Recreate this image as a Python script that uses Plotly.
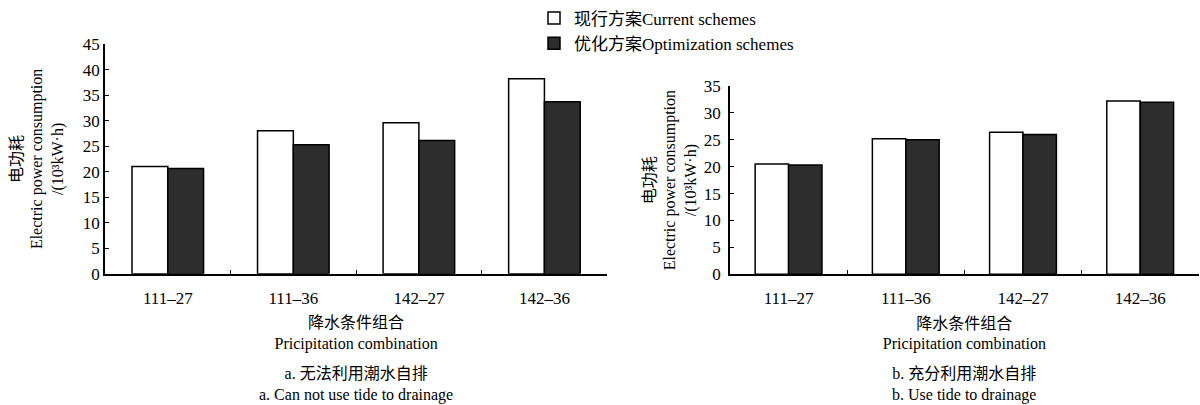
import plotly.graph_objects as go
from plotly.subplots import make_subplots

# Precipitation combinations (x categories)
categories = ["111–27", "111–36", "142–27", "142–36"]

# Panel a: tide cannot be used for drainage (10^3 kW·h)
a_current = [21.0, 28.0, 29.6, 38.2]
a_optimized = [20.6, 25.3, 26.1, 33.7]

# Panel b: full use of tidal self-drainage (10^3 kW·h)
b_current = [20.5, 25.2, 26.4, 32.2]
b_optimized = [20.3, 25.0, 26.0, 32.0]

series_names = ["现行方案Current schemes", "优化方案Optimization schemes"]
y_title = "电功耗<br>Electric power consumption<br>/(10³kW·h)"
x_title = "降水条件组合<br>Pricipitation combination"
captions = [
    "a. 无法利用潮水自排<br>a. Can not use tide to drainage",
    "b. 充分利用潮水自排<br>b. Use tide to drainage",
]

FONT = "'Liberation Serif', 'Noto Sans CJK SC', serif"
WHITE_FILL = "#ffffff"
DARK_FILL = "#2d2d2d"

fig = make_subplots(rows=1, cols=2)

panels = [(a_current, a_optimized, 1), (b_current, b_optimized, 2)]
for cur, opt, col in panels:
    fig.add_trace(go.Bar(
        x=categories, y=cur, name=series_names[0],
        marker=dict(color=WHITE_FILL, line=dict(color="#000000", width=1.5)),
        showlegend=(col == 1), legendrank=1,
    ), row=1, col=col)
    fig.add_trace(go.Bar(
        x=categories, y=opt, name=series_names[1],
        marker=dict(color=DARK_FILL, line=dict(color="#000000", width=1.5)),
        showlegend=(col == 1), legendrank=2,
    ), row=1, col=col)

axis_common = dict(
    showline=True, linecolor="#000000", linewidth=1.5,
    ticks="inside", ticklen=4, tickcolor="#000000",
    showgrid=False, zeroline=False,
    tickfont=dict(family=FONT, size=17, color="#000000"),
)

fig.update_xaxes(**axis_common, tickson="boundaries", ticklabelstandoff=8,
                 title=dict(text=x_title, font=dict(family=FONT, size=16, color="#000000"), standoff=10))
fig.update_yaxes(**axis_common)

fig.update_layout(
    xaxis=dict(domain=[0.0875, 0.506]),
    xaxis2=dict(domain=[0.6083, 0.999]),
    yaxis=dict(domain=[0.3168, 0.916], range=[0, 45], dtick=5,
               title=dict(text=y_title, font=dict(family=FONT, size=16, color="#000000"), standoff=15)),
    yaxis2=dict(domain=[0.3153, 0.8067], range=[0, 35], dtick=5, ticklabelstandoff=4,
                title=dict(text=y_title, font=dict(family=FONT, size=16, color="#000000"), standoff=3)),
)

for text, xc in zip(captions, [0.2967, 0.8037]):
    fig.add_annotation(
        text=text, xref="paper", yref="paper", x=xc, y=0.027,
        xanchor="center", yanchor="middle", showarrow=False,
        font=dict(family=FONT, size=16, color="#000000"),
    )

fig.update_layout(
    width=1200, height=405,
    margin=dict(l=0, r=0, t=0, b=0),
    paper_bgcolor="#ffffff", plot_bgcolor="#ffffff",
    barmode="group", bargap=0.43, bargroupgap=0,
    font=dict(family=FONT, color="#000000"),
    legend=dict(
        x=0.445, y=1.03, xanchor="left", yanchor="top",
        font=dict(family=FONT, size=17, color="#000000"),
        bgcolor="rgba(0,0,0,0)", itemwidth=30, tracegroupgap=0,
    ),
)

fig.write_html("out.html")
